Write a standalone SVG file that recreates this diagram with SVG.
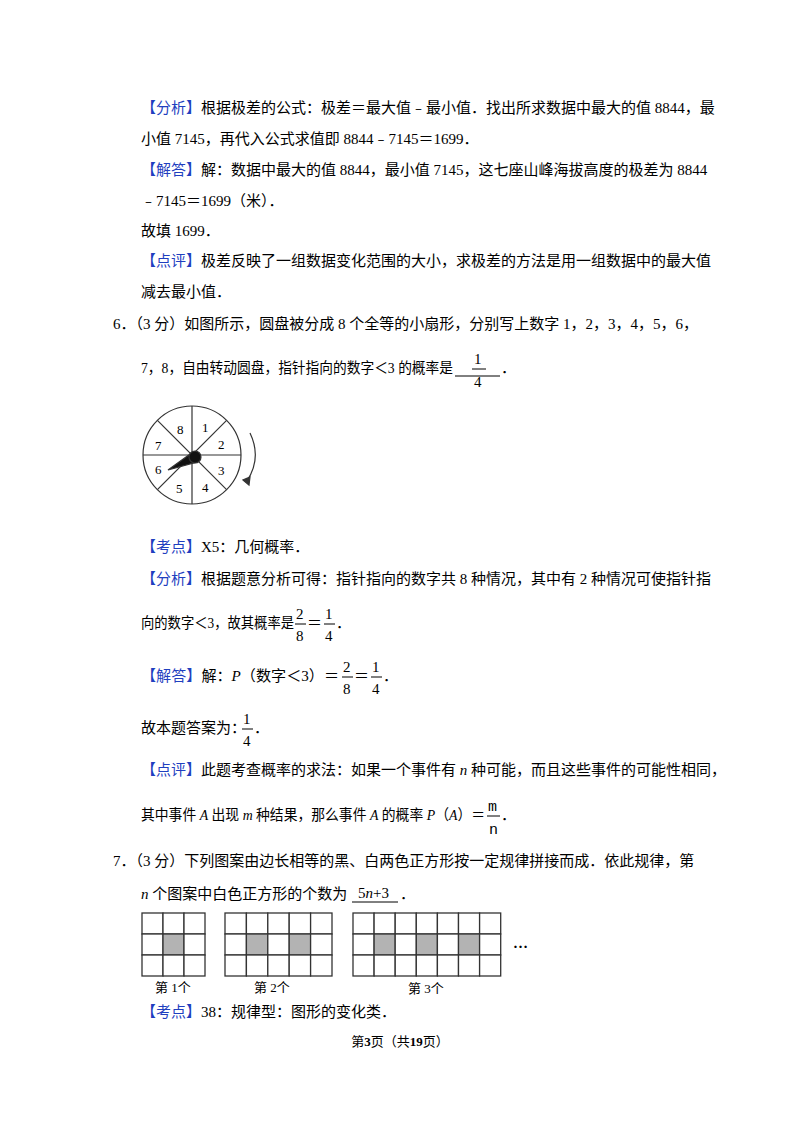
<svg xmlns="http://www.w3.org/2000/svg" width="800" height="1132" viewBox="0 0 800 1132">
<style>
text{font-family:"Liberation Serif","Noto Sans CJK SC",serif;font-size:15px;fill:#000}
.b{fill:#1f3fbf}
.g rect{fill:#fff;stroke:#333;stroke-width:1.3}
.g rect.s{fill:#b3b3b3}
</style>
<rect width="800" height="1132" fill="#fff"/>
<text x="141" y="113"><tspan class="b">【分析】</tspan>根据极差的公式：极差＝最大值﹣最小值．找出所求数据中最大的值 8844，最</text>
<text x="141" y="144">小值 7145，再代入公式求值即 8844﹣7145＝1699．</text>
<text x="141" y="175"><tspan class="b">【解答】</tspan>解：数据中最大的值 8844，最小值 7145，这七座山峰海拔高度的极差为 8844</text>
<text x="141" y="206">﹣7145＝1699（米）．</text>
<text x="141" y="236">故填 1699．</text>
<text x="141" y="266"><tspan class="b">【点评】</tspan>极差反映了一组数据变化范围的大小，求极差的方法是用一组数据中的最大值</text>
<text x="141" y="297">减去最小值．</text>
<text x="113" y="329">6．（3 分）如图所示，圆盘被分成 8 个全等的小扇形，分别写上数字 1，2，3，4，5，6，</text>
<text x="141" y="373" textLength="312" lengthAdjust="spacingAndGlyphs">7，8，自由转动圆盘，指针指向的数字＜3 的概率是</text>
<line x1="455" y1="376" x2="500" y2="376" stroke="#000"/>
<text x="474" y="364">1</text><line x1="472" y1="369" x2="486" y2="369" stroke="#000"/><text x="474" y="387">4</text>
<text x="501" y="373">．</text>
<g id="spinner" stroke="#333" stroke-width="1.2" fill="none">
<circle cx="192" cy="455" r="49"/>
<line x1="143" y1="455" x2="241" y2="455"/>
<line x1="192" y1="406" x2="192" y2="504"/>
<line x1="157.4" y1="420.4" x2="226.6" y2="489.6"/>
<line x1="226.6" y1="420.4" x2="157.4" y2="489.6"/>
<path d="M250 433 Q262 458 247 481"/>
<polygon points="243,480 249,485 250,477" fill="#333"/>
<polygon points="168,470 193,452 197,462" fill="#111"/>
<circle cx="195" cy="457" r="6" fill="#111"/>
</g>
<g>
<text x="202" y="432" style="font-size:13px">1</text><text x="218" y="449" style="font-size:13px">2</text>
<text x="218" y="475" style="font-size:13px">3</text><text x="202" y="492" style="font-size:13px">4</text>
<text x="176" y="493" style="font-size:13px">5</text><text x="155" y="474" style="font-size:13px">6</text>
<text x="155" y="450" style="font-size:13px">7</text><text x="177" y="434" style="font-size:13px">8</text>
</g>
<text x="141" y="552"><tspan class="b">【考点】</tspan>X5：几何概率．</text>
<text x="141" y="584"><tspan class="b">【分析】</tspan>根据题意分析可得：指针指向的数字共 8 种情况，其中有 2 种情况可使指针指</text>
<text x="141" y="628" textLength="153" lengthAdjust="spacingAndGlyphs">向的数字＜3，故其概率是</text>
<text x="296" y="619">2</text><line x1="295" y1="624" x2="306" y2="624" stroke="#000"/><text x="296" y="641">8</text>
<text x="307" y="628">＝</text>
<text x="325" y="619">1</text><line x1="324" y1="624" x2="335" y2="624" stroke="#000"/><text x="325" y="641">4</text>
<text x="336" y="628">．</text>
<text x="141" y="681" textLength="198" lengthAdjust="spacingAndGlyphs"><tspan class="b">【解答】</tspan>解：<tspan font-style="italic">P</tspan>（数字＜3）＝</text>
<text x="343" y="672">2</text><line x1="342" y1="677" x2="353" y2="677" stroke="#000"/><text x="343" y="694">8</text>
<text x="354" y="681">＝</text>
<text x="372" y="672">1</text><line x1="371" y1="677" x2="382" y2="677" stroke="#000"/><text x="372" y="694">4</text>
<text x="383" y="681">．</text>
<text x="141" y="733">故本题答案为：</text>
<text x="243" y="724">1</text><line x1="242" y1="729" x2="253" y2="729" stroke="#000"/><text x="243" y="746">4</text>
<text x="254" y="733">．</text>
<text x="141" y="775"><tspan class="b">【点评】</tspan>此题考查概率的求法：如果一个事件有 <tspan font-style="italic">n</tspan> 种可能，而且这些事件的可能性相同，</text>
<text x="141" y="820" textLength="344" lengthAdjust="spacingAndGlyphs">其中事件 <tspan font-style="italic">A</tspan> 出现 <tspan font-style="italic">m</tspan> 种结果，那么事件 <tspan font-style="italic">A</tspan> 的概率 <tspan font-style="italic">P</tspan>（<tspan font-style="italic">A</tspan>）＝</text>
<text x="488" y="811" style="font-family:'Liberation Mono',monospace">m</text><line x1="487" y1="816" x2="500" y2="816" stroke="#000"/><text x="489" y="834" style="font-family:'Liberation Mono',monospace">n</text>
<text x="501" y="820">．</text>
<text x="113" y="866">7．（3 分）下列图案由边长相等的黑、白两色正方形按一定规律拼接而成．依此规律，第</text>
<text x="141" y="899"><tspan font-style="italic">n</tspan> 个图案中白色正方形的个数为</text>
<line x1="352" y1="902" x2="398" y2="902" stroke="#000"/>
<text x="358" y="898">5<tspan font-style="italic">n</tspan>+3</text>
<text x="400" y="899">．</text>
<g id="pattern1" class="g">
<rect x="142" y="913" width="21" height="21"/><rect x="163" y="913" width="21" height="21"/><rect x="184" y="913" width="21" height="21"/>
<rect x="142" y="934" width="21" height="21"/><rect class="s" x="163" y="934" width="21" height="21"/><rect x="184" y="934" width="21" height="21"/>
<rect x="142" y="955" width="21" height="21"/><rect x="163" y="955" width="21" height="21"/><rect x="184" y="955" width="21" height="21"/>
</g>
<g id="pattern2" class="g">
<rect x="225" y="913" width="21.4" height="21"/><rect x="246.4" y="913" width="21.4" height="21"/><rect x="267.8" y="913" width="21.4" height="21"/><rect x="289.2" y="913" width="21.4" height="21"/><rect x="310.6" y="913" width="21.4" height="21"/>
<rect x="225" y="934" width="21.4" height="21"/><rect class="s" x="246.4" y="934" width="21.4" height="21"/><rect x="267.8" y="934" width="21.4" height="21"/><rect class="s" x="289.2" y="934" width="21.4" height="21"/><rect x="310.6" y="934" width="21.4" height="21"/>
<rect x="225" y="955" width="21.4" height="21"/><rect x="246.4" y="955" width="21.4" height="21"/><rect x="267.8" y="955" width="21.4" height="21"/><rect x="289.2" y="955" width="21.4" height="21"/><rect x="310.6" y="955" width="21.4" height="21"/>
</g>
<g id="pattern3" class="g">
<rect x="353" y="913" width="21.1" height="21"/><rect x="374.1" y="913" width="21.1" height="21"/><rect x="395.2" y="913" width="21.1" height="21"/><rect x="416.3" y="913" width="21.1" height="21"/><rect x="437.4" y="913" width="21.1" height="21"/><rect x="458.5" y="913" width="21.1" height="21"/><rect x="479.6" y="913" width="21.1" height="21"/>
<rect x="353" y="934" width="21.1" height="21"/><rect class="s" x="374.1" y="934" width="21.1" height="21"/><rect x="395.2" y="934" width="21.1" height="21"/><rect class="s" x="416.3" y="934" width="21.1" height="21"/><rect x="437.4" y="934" width="21.1" height="21"/><rect class="s" x="458.5" y="934" width="21.1" height="21"/><rect x="479.6" y="934" width="21.1" height="21"/>
<rect x="353" y="955" width="21.1" height="21"/><rect x="374.1" y="955" width="21.1" height="21"/><rect x="395.2" y="955" width="21.1" height="21"/><rect x="416.3" y="955" width="21.1" height="21"/><rect x="437.4" y="955" width="21.1" height="21"/><rect x="458.5" y="955" width="21.1" height="21"/><rect x="479.6" y="955" width="21.1" height="21"/>
</g>
<text x="513" y="948" font-weight="bold">…</text>
<text x="155" y="992" style="font-size:13px">第 1个</text>
<text x="254" y="992" style="font-size:13px">第 2个</text>
<text x="408" y="993" style="font-size:13px">第 3个</text>
<text x="141" y="1017"><tspan class="b">【考点】</tspan>38：规律型：图形的变化类．</text>
<text x="400" y="1046" text-anchor="middle" style="font-size:13px">第<tspan font-weight="bold">3</tspan>页（共<tspan font-weight="bold">19</tspan>页）</text>
</svg>
